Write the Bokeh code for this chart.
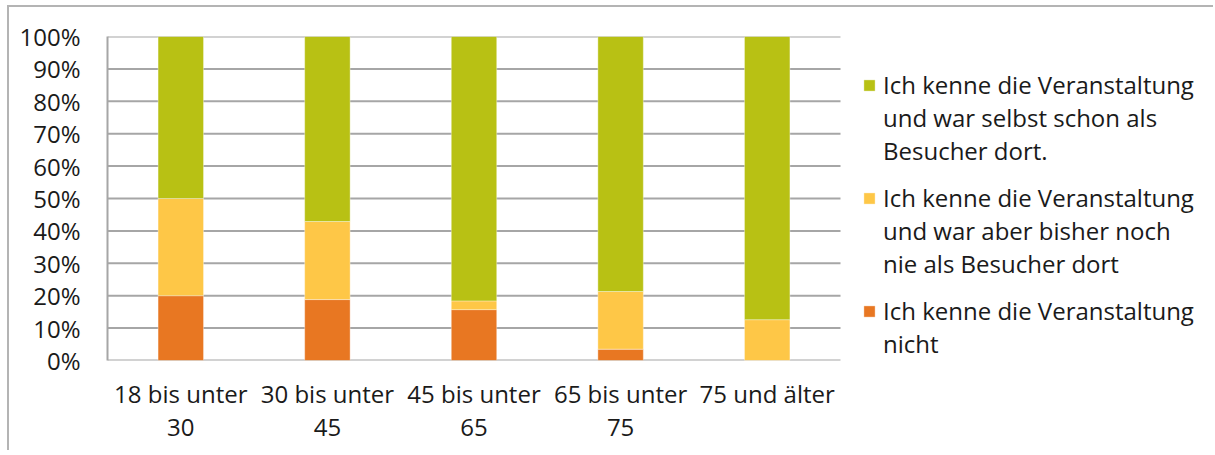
from bokeh.plotting import figure
from bokeh.models import (ColumnDataSource, Legend, LegendItem, NumeralTickFormatter, FixedTicker,
                          Range1d, LinearAxis, CustomJSTickFormatter)
from bokeh.embed import file_html
from bokeh.resources import INLINE

categories = ["18 bis unter 30", "30 bis unter 45", "45 bis unter 65", "65 bis unter 75", "75 und älter"]
tick_line1 = ["18 bis unter", "30 bis unter", "45 bis unter", "65 bis unter", "75 und älter"]
tick_line2 = ["30", "45", "65", "75", ""]
kenne_nicht = [0.200, 0.188, 0.157, 0.035, 0.000]
nie_besucht = [0.300, 0.241, 0.027, 0.178, 0.126]
schon_besucht = [0.500, 0.571, 0.816, 0.787, 0.874]
series_keys = ["kenne_nicht", "nie_besucht", "schon_besucht"]
series_labels = [
    ["Ich kenne die Veranstaltung", "nicht"],
    ["Ich kenne die Veranstaltung", "und war aber bisher noch", "nie als Besucher dort"],
    ["Ich kenne die Veranstaltung", "und war selbst schon als", "Besucher dort."],
]
colors = ["#E87722", "#FEC747", "#B8C114"]
y_ticks = [0, 0.1, 0.2, 0.3, 0.4, 0.5, 0.6, 0.7, 0.8, 0.9, 1.0]

FONT = "Open Sans"
FS = "24px"
TXT = "#1a1a1a"
GRID = "#A6A6A6"

# plot area: the category band (733 px) plus the legend area to its right, inside one frame
BAND_W = 733
FRAME_W = 1106
n = len(categories)
x_centers = [i + 0.5 for i in range(n)]

source = ColumnDataSource(dict(
    x=x_centers, cat=categories,
    kenne_nicht=kenne_nicht, nie_besucht=nie_besucht, schon_besucht=schon_besucht))

p = figure(x_range=Range1d(0, n * FRAME_W / BAND_W), y_range=Range1d(0, 1),
           frame_width=FRAME_W, frame_height=324,
           output_backend="svg", toolbar_location=None,
           min_border_left=98, min_border_right=0, min_border_top=29, min_border_bottom=90)
p.styles = {"border-left": "2px solid #B4B4B4", "border-top": "2px solid #B4B4B4",
            "margin-left": "7px", "margin-top": "5px"}
p.outline_line_color = None

# horizontal grid lines, limited to the category band
p.segment(x0=0, x1=n, y0=y_ticks, y1=y_ticks, line_color=GRID, line_width=2)

renderers = p.vbar_stack(series_keys, x="x", width=0.31, source=source,
                         fill_color=colors, line_color="white", line_width=0.6, line_alpha=0.6)
# invisible helper renderer for legend continuation lines
blank = p.vbar(x=[], top=[], width=0.31, fill_alpha=0, line_alpha=0)

p.xgrid.grid_line_color = None
p.ygrid.grid_line_color = None

p.yaxis.ticker = FixedTicker(ticks=y_ticks)
p.yaxis.formatter = NumeralTickFormatter(format="0%")

fmt_code = "const i = Math.round(tick - 0.5); return (i >= 0 && i < lines.length) ? lines[i] : '';"
p.xaxis[0].ticker = FixedTicker(ticks=x_centers)
p.xaxis[0].formatter = CustomJSTickFormatter(args=dict(lines=tick_line1), code=fmt_code)
x2 = LinearAxis(ticker=FixedTicker(ticks=x_centers),
                formatter=CustomJSTickFormatter(args=dict(lines=tick_line2), code=fmt_code))
p.add_layout(x2, "below")

for ax in (p.xaxis[0], p.yaxis[0], x2):
    ax.major_tick_line_color = None
    ax.minor_tick_line_color = None
    ax.axis_line_color = None
    ax.major_label_text_font = FONT
    ax.major_label_text_font_size = FS
    ax.major_label_text_color = TXT
p.yaxis.axis_line_color = GRID
p.yaxis.axis_line_width = 2
p.yaxis.major_label_standoff = 21
p.xaxis[0].major_label_standoff = 10
x2.major_label_standoff = 0

# legend: one block per series, swatch on the first line (top: green, yellow, orange)
legend_pos = {2: (755, 193), 1: (755, 80), 0: (755, 0)}
for i in (2, 1, 0):
    lines = series_labels[i]
    items = [LegendItem(label=lines[0], renderers=[renderers[i]])]
    items += [LegendItem(label=t, renderers=[blank]) for t in lines[1:]]
    lg = Legend(items=items, location=legend_pos[i], padding=0, margin=0, spacing=0,
                border_line_color=None, background_fill_alpha=0,
                glyph_width=14, glyph_height=14, label_standoff=7, label_height=32,
                label_text_font=FONT, label_text_font_size=FS, label_text_color=TXT)
    p.add_layout(lg, "center")

open("out.html", "w").write(file_html(p, INLINE))
